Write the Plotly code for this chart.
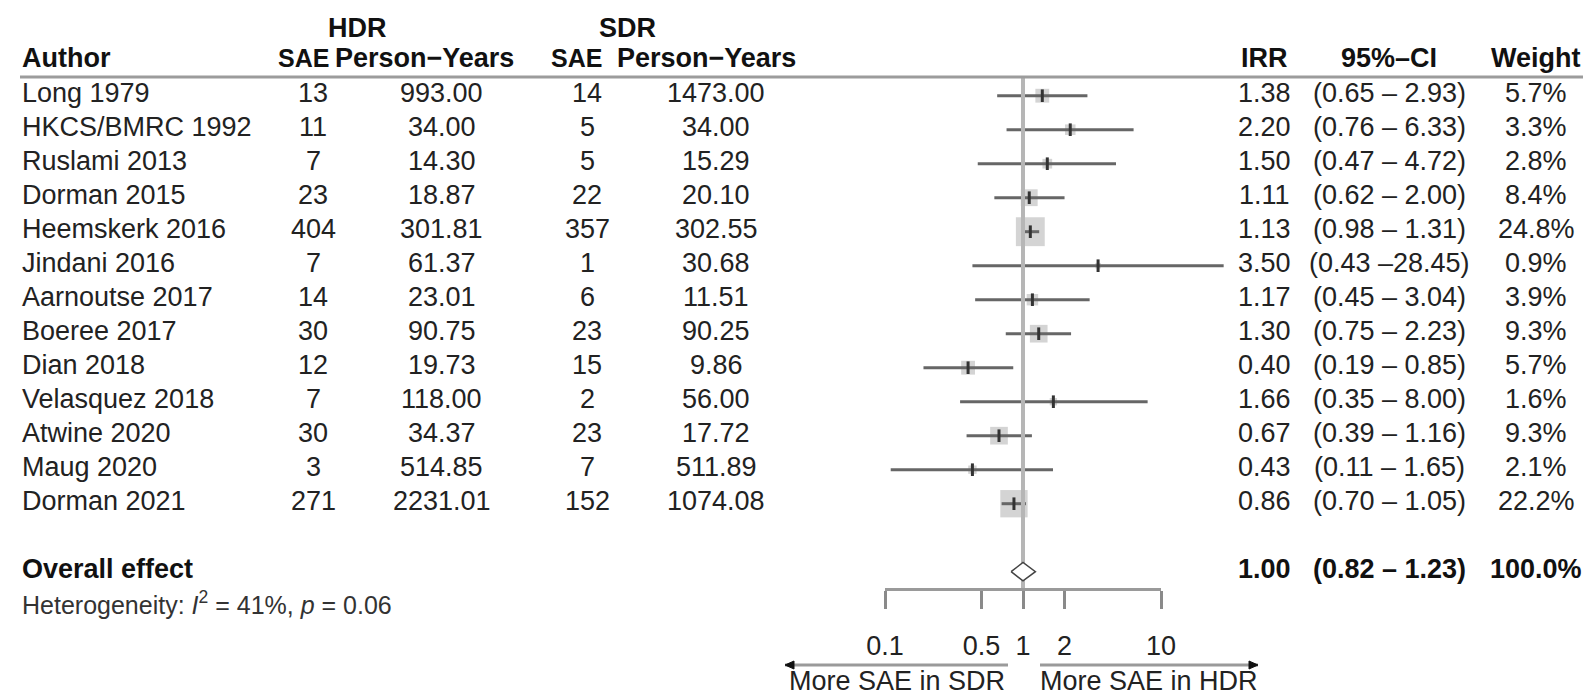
import math
import plotly.graph_objects as go

# ---- study data -------------------------------------------------------------
authors = ["Long 1979", "HKCS/BMRC 1992", "Ruslami 2013", "Dorman 2015",
           "Heemskerk 2016", "Jindani 2016", "Aarnoutse 2017", "Boeree 2017",
           "Dian 2018", "Velasquez 2018", "Atwine 2020", "Maug 2020",
           "Dorman 2021"]
hdr_sae = [13, 11, 7, 23, 404, 7, 14, 30, 12, 7, 30, 3, 271]
hdr_py = [993.00, 34.00, 14.30, 18.87, 301.81, 61.37, 23.01, 90.75, 19.73,
          118.00, 34.37, 514.85, 2231.01]
sdr_sae = [14, 5, 5, 22, 357, 1, 6, 23, 15, 2, 23, 7, 152]
sdr_py = [1473.00, 34.00, 15.29, 20.10, 302.55, 30.68, 11.51, 90.25, 9.86,
          56.00, 17.72, 511.89, 1074.08]
irr = [1.38, 2.20, 1.50, 1.11, 1.13, 3.50, 1.17, 1.30, 0.40, 1.66, 0.67,
       0.43, 0.86]
ci_lo = [0.65, 0.76, 0.47, 0.62, 0.98, 0.43, 0.45, 0.75, 0.19, 0.35, 0.39,
         0.11, 0.70]
ci_hi = [2.93, 6.33, 4.72, 2.00, 1.31, 28.45, 3.04, 2.23, 0.85, 8.00, 1.16,
         1.65, 1.05]
weight = [5.7, 3.3, 2.8, 8.4, 24.8, 0.9, 3.9, 9.3, 5.7, 1.6, 9.3, 2.1, 22.2]

overall_irr, overall_lo, overall_hi, overall_weight = 1.00, 0.82, 1.23, 100.0
het_i2, het_p = 41, 0.06

tick_vals = [0.1, 0.5, 1, 2, 10]
tick_text = ["0.1", "0.5", "1", "2", "10"]

# ---- layout geometry (pixels) ----------------------------------------------
W, H = 1586, 697
X1_PX = 1023        # horizontal position of IRR = 1
DECADE_PX = 138     # width of one factor of ten on the IRR scale
ROW0_PX = 95.7      # centre of the first study row
ROW_PX = 34.0       # row pitch
AXIS_PX = 589       # vertical position of the IRR axis line

FONT = "Liberation Sans, Arial, Helvetica, sans-serif"
FS = 27
TXT = "#222222"


def row_of(py):
    return (py - ROW0_PX) / ROW_PX


def xp(px):
    return px / W


n = len(authors)
rows = list(range(n))
overall_row = n + 1

fig = go.Figure()

# vertical line of no effect
fig.add_trace(go.Scatter(
    x=[1, 1], y=[row_of(77), row_of(AXIS_PX)], xaxis="x2", mode="lines",
    line=dict(color="#b6b6b6", width=4), hoverinfo="skip"))

# weight squares
fig.add_trace(go.Scatter(
    x=irr, y=rows, mode="markers", hoverinfo="skip",
    marker=dict(symbol="square", size=[5.8 * math.sqrt(w) for w in weight],
                color="#c2c2c2", line=dict(width=0))))

# confidence intervals
ci_x, ci_y = [], []
for lo, hi, r in zip(ci_lo, ci_hi, rows):
    ci_x += [lo, hi, None]
    ci_y += [r, r, None]
fig.add_trace(go.Scatter(
    x=ci_x, y=ci_y, mode="lines", hoverinfo="skip",
    line=dict(color="#666666", width=3)))

# point estimates
fig.add_trace(go.Scatter(
    x=irr, y=rows, mode="markers", hoverinfo="skip",
    marker=dict(symbol="line-ns", size=9,
                line=dict(width=3, color="#333333"))))

# pooled estimate diamond
dh = 0.27
fig.add_trace(go.Scatter(
    x=[overall_lo, overall_irr, overall_hi, overall_irr, overall_lo],
    y=[overall_row, overall_row - dh, overall_row, overall_row + dh,
       overall_row],
    xaxis="x2", mode="lines", fill="toself", fillcolor="white",
    line=dict(color="#444444", width=1.5), hoverinfo="skip"))

ann = []


def text(x_px, y, s, anchor="center", bold=False, size=FS, color=TXT):
    if bold:
        s = "<b>" + s + "</b>"
    ann.append(dict(x=xp(x_px), y=y, xref="paper", yref="y", text=s,
                    showarrow=False, xanchor=anchor, yanchor="middle",
                    font=dict(family=FONT, size=size, color=color)))


# column positions
C_AUTH = 20
C_HSAE, C_HPY, C_SSAE, C_SPY = 313, 442, 587, 716
H_HSAE, H_HPY, H_SSAE, H_SPY = 303, 424, 576, 706
C_IRR, C_CI, C_W = 1264, 1389, 1536

# header
y_grp, y_head = row_of(28), row_of(58)
text(357, y_grp, "HDR", bold=True, color="#111")
text(627, y_grp, "SDR", bold=True, color="#111")
text(C_AUTH, y_head, "Author", anchor="left", bold=True, color="#111")
text(H_HSAE, y_head, "SAE", bold=True, size=25, color="#111")
text(H_HPY, y_head, "Person\u2212Years", bold=True, color="#111")
text(H_SSAE, y_head, "SAE", bold=True, size=25, color="#111")
text(H_SPY, y_head, "Person\u2212Years", bold=True, color="#111")
text(C_IRR, y_head, "IRR", bold=True, color="#111")
text(C_CI, y_head, "95%\u2013CI", bold=True, color="#111")
text(C_W, y_head, "Weight", bold=True, color="#111")

# study rows
for i in rows:
    yt = i - 0.08
    text(C_AUTH, yt, authors[i], anchor="left")
    text(C_HSAE, yt, str(hdr_sae[i]))
    text(C_HPY, yt, f"{hdr_py[i]:.2f}")
    text(C_SSAE, yt, str(sdr_sae[i]))
    text(C_SPY, yt, f"{sdr_py[i]:.2f}")
    text(C_IRR, yt, f"{irr[i]:.2f}")
    text(C_CI, yt, f"({ci_lo[i]:.2f} \u2013{ci_hi[i]:5.2f})")
    text(C_W, yt, f"{weight[i]:.1f}%")

# pooled row
yo = overall_row - 0.08
text(C_AUTH, yo, "Overall effect", anchor="left", bold=True, color="#111")
text(C_IRR, yo, f"{overall_irr:.2f}", bold=True, color="#111")
text(C_CI, yo, f"({overall_lo:.2f} \u2013{overall_hi:5.2f})", bold=True,
     color="#111")
text(C_W, yo, f"{overall_weight:.1f}%", bold=True, color="#111")
text(C_AUTH, row_of(603),
     f"Heterogeneity: <i>I</i><sup>2</sup> = {het_i2}%, <i>p</i> = {het_p:.2f}",
     anchor="left", size=25, color="#333")

# direction arrows and labels
shapes = []
y_arrow = row_of(665)
hh = 4 / ROW_PX
for head, tail in [(785, 1008), (1258, 1040)]:
    shapes.append(dict(type="line", xref="paper", yref="y", x0=xp(head),
                       x1=xp(tail), y0=y_arrow, y1=y_arrow,
                       line=dict(color="#9a9a9a", width=3)))
    back = head + (9 if tail > head else -9)
    shapes.append(dict(
        type="path", xref="paper", yref="y",
        path=(f"M {xp(head)},{y_arrow} L {xp(back)},{y_arrow - hh} "
              f"L {xp(back)},{y_arrow + hh} Z"),
        fillcolor="#111111", line=dict(color="#111111", width=1)))
text(897, row_of(681), "More SAE in SDR")
text(1149, row_of(681), "More SAE in HDR")

# rule under the column headings
shapes.append(dict(type="line", xref="paper", yref="y", x0=xp(20),
                   x1=xp(1583), y0=row_of(77), y1=row_of(77),
                   line=dict(color="#9c9c9c", width=3)))

fig.update_layout(
    width=W, height=H,
    margin=dict(l=0, r=0, t=0, b=0, pad=0, autoexpand=False),
    paper_bgcolor="white", plot_bgcolor="rgba(0,0,0,0)", showlegend=False,
    font=dict(family=FONT, size=FS, color=TXT),
    annotations=ann, shapes=shapes,
    xaxis=dict(type="log", range=[-X1_PX / DECADE_PX, (W - X1_PX) / DECADE_PX],
               domain=[0, 1], visible=False, fixedrange=True,
               automargin=False),
    xaxis2=dict(type="log", range=[-1, 1], anchor="free",
                domain=[(X1_PX - DECADE_PX) / W, (X1_PX + DECADE_PX) / W],
                position=1 - AXIS_PX / H, side="bottom", automargin=False,
                showline=True, linecolor="#9a9a9a", linewidth=3,
                ticks="outside", ticklen=18, tickwidth=3, tickcolor="#8a8a8a",
                tickvals=tick_vals, ticktext=tick_text,
                tickfont=dict(family=FONT, size=FS, color=TXT),
                ticklabelstandoff=14,
                showgrid=False, zeroline=False, fixedrange=True),
    yaxis=dict(range=[row_of(H), row_of(0)], visible=False, fixedrange=True,
               automargin=False),
)

fig.write_html("out.html")
